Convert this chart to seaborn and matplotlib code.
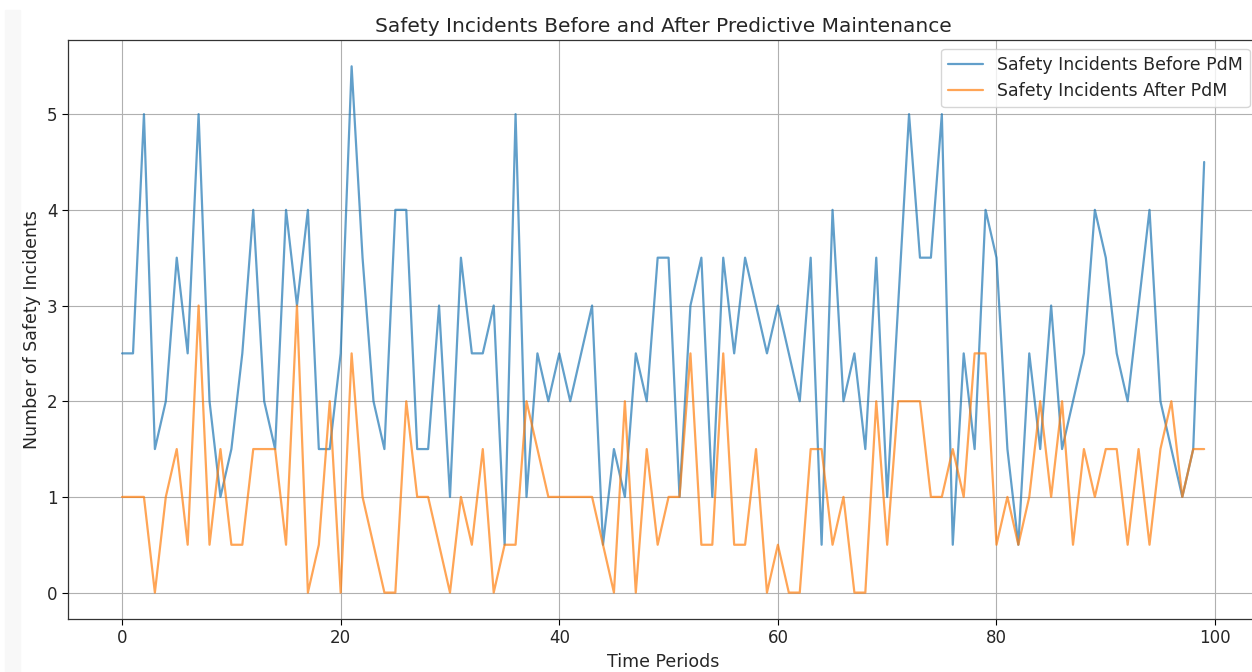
import numpy as np
import pandas as pd
import matplotlib
matplotlib.use('Agg')
import matplotlib.pyplot as plt
import seaborn as sns

# values (steps of 0.5)
before_pdm = [2.5, 2.5, 5, 1.5, 2, 3.5, 2.5, 5, 2, 1,
              1.5, 2.5, 4, 2, 1.5, 4, 3, 4, 1.5, 1.5,
              2.5, 5.5, 3.5, 2, 1.5, 4, 4, 1.5, 1.5, 3,
              1, 3.5, 2.5, 2.5, 3, 0.5, 5, 1, 2.5, 2,
              2.5, 2, 2.5, 3, 0.5, 1.5, 1, 2.5, 2, 3.5,
              3.5, 1, 3, 3.5, 1, 3.5, 2.5, 3.5, 3, 2.5,
              3, 2.5, 2, 3.5, 0.5, 4, 2, 2.5, 1.5, 3.5,
              1, 3, 5, 3.5, 3.5, 5, 0.5, 2.5, 1.5, 4,
              3.5, 1.5, 0.5, 2.5, 1.5, 3, 1.5, 2, 2.5, 4,
              3.5, 2.5, 2, 3, 4, 2, 1.5, 1, 1.5, 4.5]
after_pdm = [1, 1, 1, 0, 1, 1.5, 0.5, 3, 0.5, 1.5,
             0.5, 0.5, 1.5, 1.5, 1.5, 0.5, 3, 0, 0.5, 2,
             0, 2.5, 1, 0.5, 0, 0, 2, 1, 1, 0.5,
             0, 1, 0.5, 1.5, 0, 0.5, 0.5, 2, 1.5, 1,
             1, 1, 1, 1, 0.5, 0, 2, 0, 1.5, 0.5,
             1, 1, 2.5, 0.5, 0.5, 2.5, 0.5, 0.5, 1.5, 0,
             0.5, 0, 0, 1.5, 1.5, 0.5, 1, 0, 0, 2,
             0.5, 2, 2, 2, 1, 1, 1.5, 1, 2.5, 2.5,
             0.5, 1, 0.5, 1, 2, 1, 2, 0.5, 1.5, 1,
             1.5, 1.5, 0.5, 1.5, 0.5, 1.5, 2, 1, 1.5, 1.5]
periods = np.arange(len(before_pdm))

df = pd.DataFrame({'period': periods, 'before': before_pdm, 'after': after_pdm})

sns.set_style('white')
plt.rcParams['font.family'] = ['DejaVu Sans']

fig, ax = plt.subplots(figsize=(12.52, 6.72), dpi=100)
# faint grey strip on the left edge of the screenshot
fig.patches.append(plt.Rectangle((5 / 1252, 0), 15 / 1252, 1 - 10 / 672,
                                 transform=fig.transFigure, color='#f8f8f8', zorder=-1))

sns.lineplot(x='period', y='before', data=df, ax=ax, color='#1f77b4', alpha=0.7,
             linewidth=1.6, label='Safety Incidents Before PdM')
sns.lineplot(x='period', y='after', data=df, ax=ax, color='#ff7f0e', alpha=0.7,
             linewidth=1.6, label='Safety Incidents After PdM')

ax.set_title('Safety Incidents Before and After Predictive Maintenance', fontsize=14.5)
ax.set_xlabel('Time Periods', fontsize=12.5)
ax.set_ylabel('Number of Safety Incidents', fontsize=12.5)
ax.grid(True, color='#b0b0b0', linewidth=0.8)
for s in ax.spines.values():
    s.set_color('#333333')
    s.set_linewidth(0.9)
ax.tick_params(axis='both', direction='out', length=4, color='black',
               left=True, bottom=True, labelsize=12)
ax.legend(loc='upper right', fontsize=12.5)

plt.subplots_adjust(left=0.0543, right=1.005, top=0.9405, bottom=0.079)
fig.savefig('out.png', dpi=100)
plt.close()
